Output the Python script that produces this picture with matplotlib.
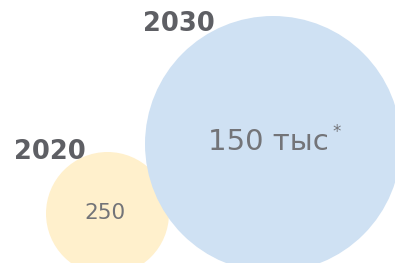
import matplotlib
matplotlib.use("Agg")
import matplotlib.pyplot as plt
from matplotlib.patches import Circle

years = ["2020", "2030"]
values = ["250", "150 тыс"]
footnote_marks = ["", "*"]

# layout (pixel coordinates, y down)
centers = [(107.5, 213.5), (273, 144)]
radii = [61.5, 128]
colors = ["#FFF0CC", "#CFE1F3"]
year_pos = [(14, 159), (143, 31)]
value_pos = [(104.5, 219), (268.5, 150)]
value_fs = [15.5, 21]

fig = plt.figure(figsize=(3.95, 2.63), dpi=100)
ax = fig.add_axes([0, 0, 1, 1])
ax.set_xlim(0, 395)
ax.set_ylim(263, 0)
ax.axis("off")

for i in range(len(years)):
    ax.add_patch(Circle(centers[i], radii[i], facecolor=colors[i], edgecolor="none", zorder=1))

for i in range(len(years)):
    ax.text(year_pos[i][0], year_pos[i][1], years[i], fontsize=18.5, fontweight="bold",
            family="DejaVu Sans", color="#5e5f64", ha="left", va="baseline")
    ax.text(value_pos[i][0], value_pos[i][1], values[i], fontsize=value_fs[i], fontweight="normal",
            family="DejaVu Sans", color="#737478", ha="center", va="baseline", zorder=5)

ax.text(332, 137, footnote_marks[1], fontsize=12, color="#737478", ha="left", va="baseline",
        family="DejaVu Sans", zorder=5)

fig.savefig("out.png", dpi=100)
